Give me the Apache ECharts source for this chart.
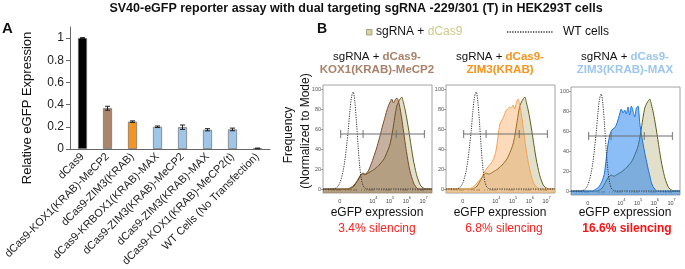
<!DOCTYPE html>
<html>
<head>
<meta charset="utf-8">
<script src="https://cdn.jsdelivr.net/npm/echarts@6/dist/echarts.min.js"></script>
<style>
  html, body { margin: 0; padding: 0; background: #fff; }
  #chart { width: 685px; height: 269px; }
</style>
</head>
<body>
<div id="chart"></div>
<script>
// panel A: relative eGFP expression
const categories = [
  'dCas9',
  'dCas9-KOX1(KRAB)-MeCP2',
  'dCas9-ZIM3(KRAB)',
  'dCas9-KRBOX1(KRAB)-MAX',
  'dCas9-ZIM3(KRAB)-MeCP2',
  'dCas9-ZIM3(KRAB)-MAX',
  'dCas9-KOX1(KRAB)-MeCP2(t)',
  'WT Cells (No Transfection)'
]
const expression = [1.0, 0.367, 0.246, 0.2, 0.196, 0.173, 0.176, 0.005]
const expressionErr = [0.004, 0.018, 0.007, 0.007, 0.02, 0.01, 0.012, 0.003]
const barColors = ['#000000', '#a8856b', '#f7931e', '#9fc5e8', '#9fc5e8', '#9fc5e8', '#9fc5e8', '#000000']

// panel B: histogram bins (display position of eGFP axis, 2 = 0, 4 = 10^4 ... 7 = 10^7)
const bins = [
  1.0, 1.1, 1.2, 1.3, 1.4, 1.5, 1.6, 1.7, 1.8, 1.9,
  2.0, 2.1, 2.2, 2.3, 2.4, 2.5, 2.6, 2.7, 2.8, 2.9,
  3.0, 3.1, 3.2, 3.3, 3.4, 3.5, 3.6, 3.7, 3.8, 3.9,
  4.0, 4.1, 4.2, 4.3, 4.4, 4.5, 4.6, 4.7, 4.8, 4.9,
  5.0, 5.1, 5.2, 5.3, 5.4, 5.5, 5.6, 5.7, 5.8, 5.9,
  6.0, 6.1, 6.2, 6.3, 6.4, 6.5, 6.6, 6.7, 6.8, 6.9,
  7.0, 7.1, 7.2, 7.3, 7.4, 7.5
]
const wtCells = [
  0, 0, 0, 0, 0, 0, 0, 0.5, 1, 3,
  6, 11, 18, 28, 42, 58, 77, 92, 97, 87,
  66, 41, 21, 9, 3, 1, 0, 0, 0, 0,
  0, 0, 0, 0, 0, 0, 0, 0, 0, 0,
  0, 0, 0, 0, 0, 0, 0, 0, 0, 0,
  0, 0, 0, 0, 0, 0, 0, 0, 0, 0,
  0, 0, 0, 0, 0, 0
]
const dCas9Only = [
  0, 0, 0, 0, 0, 0, 0, 0, 0, 0,
  0, 0, 0, 0, 0, 0, 0, 1, 2, 4,
  7, 10, 13, 15, 16, 15, 15, 16, 17, 18,
  19, 20, 22, 23, 25, 27, 29, 32, 36, 40,
  45, 53, 63, 74, 83, 87, 90, 92, 86, 79,
  70, 60, 49, 38, 28, 20, 13, 8, 4, 2,
  1, 0, 0, 0, 0, 0
]
const kox1Mecp2 = [
  0, 0, 0, 0, 0, 0, 0, 0, 0, 0,
  0, 0, 0, 0, 0, 0, 1, 2, 3, 5,
  7, 9, 12, 15, 15, 14, 16, 18, 22, 26,
  31, 36, 41, 47, 53, 60, 66, 72, 78, 83,
  87, 90, 86, 89, 91, 88, 80, 70, 58, 46,
  35, 25, 17, 11, 6, 3, 1, 0, 0, 0,
  0, 0, 0, 0, 0, 0
]
const zim3 = [
  0, 0, 0, 0, 0, 0, 0, 0, 0, 0,
  0, 0, 0, 0, 0, 1, 2, 3, 5, 7,
  9, 11, 14, 17, 20, 22, 24, 26, 29, 33,
  40, 52, 64, 68, 71, 75, 79, 80, 82, 81,
  84, 80, 87, 90, 84, 74, 62, 49, 37, 27,
  19, 12, 7, 4, 2, 1, 0, 0, 0, 0,
  0, 0, 0, 0, 0, 0
]
const zim3Max = [
  0, 0, 0, 0, 0, 0, 0, 0, 0, 0,
  0, 0, 0, 0, 1, 2, 3, 5, 8, 12,
  18, 32, 46, 55, 60, 62, 63, 66, 71, 77,
  82, 78, 81, 77, 84, 76, 85, 80, 74, 83,
  85, 68, 56, 47, 38, 30, 22, 15, 8, 4,
  2, 0, 0, 0, 0, 0, 0, 0, 0, 0,
  0, 0, 0, 0, 0, 0
]
const gateMarks = [2.05, 3.39, 5.37, 7.05]
const gateLevel = 55
const freqTicks = [0, 20, 40, 60, 80, 100]
const gfpTicks = [2, 4, 5, 6, 7]

const font = 'Liberation Sans, Arial, sans-serif'

// minor log ticks along the eGFP axis
const gfpMinor = []
for (let n = 1; n <= 6; n++) {
  for (let k = 1; k <= 9; k++) {
    const v = n + Math.log10(k)
    if (v >= 1 && v <= 7.5) gfpMinor.push(v)
  }
}
gfpMinor.push(7)

const pairs = (arr) => bins.map((d, i) => [d, arr[i]])

const panels = [
  { left: 323, top: 85, data: kox1Mecp2, fill: 'rgba(120,70,30,0.6)', line: '#7a4a2a' },
  { left: 446, top: 85, data: zim3, fill: 'rgba(250,150,60,0.5)', line: '#f5a050' },
  { left: 571, top: 87, data: zim3Max, fill: 'rgba(25,125,240,0.72)', line: '#1a73d9' }
]

const grids = [{ left: 70, top: 27, width: 200, height: 124.7 }]
const xAxes = [{
  type: 'category',
  gridIndex: 0,
  data: categories,
  axisLine: { lineStyle: { color: '#666' } },
  axisTick: { show: false },
  axisLabel: { rotate: 45, interval: 0, fontSize: 11, color: '#222', fontFamily: font, margin: 6 }
}]
const yAxes = [{
  type: 'value',
  gridIndex: 0,
  min: 0,
  max: 1.1,
  splitLine: { show: false },
  axisLine: { show: true, lineStyle: { color: '#666' } },
  axisTick: { show: true, length: 4, customValues: [0, 0.2, 0.4, 0.6, 0.8, 1] },
  axisLabel: { fontSize: 12, color: '#222', fontFamily: font, margin: 6, customValues: [0, 0.2, 0.4, 0.6, 0.8, 1] }
}]
const series = [
  {
    type: 'bar',
    xAxisIndex: 0,
    yAxisIndex: 0,
    barWidth: 9,
    data: expression.map((v, i) => ({ value: v, itemStyle: { color: barColors[i] } })),
    itemStyle: { borderColor: '#6f6f6f', borderWidth: 0.7 }
  },
  {
    type: 'custom',
    xAxisIndex: 0,
    yAxisIndex: 0,
    z: 10,
    data: expression.map((v, i) => [i, v - expressionErr[i], v + expressionErr[i]]),
    renderItem(params, api) {
      const lo = api.coord([api.value(0), api.value(1)])
      const hi = api.coord([api.value(0), api.value(2)])
      const w = 2.5
      const st = { stroke: '#222', lineWidth: 1 }
      return {
        type: 'group',
        children: [
          { type: 'line', shape: { x1: lo[0], y1: lo[1], x2: hi[0], y2: hi[1] }, style: st },
          { type: 'line', shape: { x1: hi[0] - w, y1: hi[1], x2: hi[0] + w, y2: hi[1] }, style: st },
          { type: 'line', shape: { x1: lo[0] - w, y1: lo[1], x2: lo[0] + w, y2: lo[1] }, style: st }
        ]
      }
    }
  }
]

panels.forEach((p, idx) => {
  const g = idx + 1
  grids.push({ left: p.left, top: p.top, width: 109, height: 108, show: true, borderColor: '#8a8a8a', borderWidth: 0.8 })
  xAxes.push({
    type: 'value',
    gridIndex: g,
    min: 1,
    max: 7.5,
    splitLine: { show: false },
    axisLine: { show: false },
    axisTick: { show: true, length: 2, lineStyle: { color: '#666', width: 0.6 }, customValues: gfpMinor },
    axisLabel: {
      customValues: gfpTicks,
      margin: 3,
      color: '#444',
      fontFamily: font,
      fontSize: 5.5,
      formatter: (v) => (Math.abs(v - 2) < 1e-6 ? '{b|0}' : '{b|10}{s|' + Math.round(v) + '}'),
      rich: {
        b: { fontSize: 5.5, color: '#444', verticalAlign: 'bottom', lineHeight: 8 },
        s: { fontSize: 4, color: '#444', verticalAlign: 'top', lineHeight: 8 }
      }
    }
  })
  yAxes.push({
    type: 'value',
    gridIndex: g,
    min: -4,
    max: 104,
    splitLine: { show: false },
    axisLine: { show: false },
    axisTick: { show: true, length: 2, lineStyle: { color: '#666', width: 0.6 }, customValues: freqTicks },
    axisLabel: { customValues: freqTicks, fontSize: 5.5, color: '#555', fontFamily: font, margin: 2 }
  })
  series.push(
    {
      type: 'line', xAxisIndex: g, yAxisIndex: g, data: pairs(dCas9Only), showSymbol: false, smooth: 0.2, z: 2,
      lineStyle: { color: '#5e5c1a', width: 1 }, areaStyle: { color: 'rgba(196,192,146,0.7)', origin: 'start' }
    },
    {
      type: 'line', xAxisIndex: g, yAxisIndex: g, data: pairs(p.data), showSymbol: false, smooth: 0.2, z: 3,
      lineStyle: { color: p.line, width: 1 }, areaStyle: { color: p.fill, origin: 'start' }
    },
    {
      type: 'line', xAxisIndex: g, yAxisIndex: g, data: pairs(wtCells), showSymbol: false, smooth: 0.3, z: 4,
      lineStyle: { color: '#333', width: 1, type: [1.2, 1.2] }
    },
    {
      type: 'line', xAxisIndex: g, yAxisIndex: g, showSymbol: false, z: 5,
      data: [[gateMarks[0], gateLevel], [gateMarks[gateMarks.length - 1], gateLevel]],
      lineStyle: { color: '#6e6e6e', width: 1.2 }
    },
    {
      type: 'scatter', xAxisIndex: g, yAxisIndex: g, z: 5, symbol: 'rect', symbolSize: [1.2, 8],
      itemStyle: { color: '#6e6e6e' },
      data: gateMarks.map((d) => [d, gateLevel])
    }
  )
})

const titleLine = (x, name, color) => ({
  type: 'text', x: x, y: 63,
  style: {
    text: '{k|sgRNA + }{c|dCas9-}\n{c|' + name + '}',
    textAlign: 'center', textVerticalAlign: 'middle',
    rich: {
      k: { fill: '#111', fontSize: 11.5, fontFamily: font, lineHeight: 13 },
      c: { fill: color, fontSize: 11.5, fontWeight: 'bold', fontFamily: font, lineHeight: 13 }
    }
  }
})
const plain = (x, y, text, opts) => ({
  type: 'text', x: x, y: y,
  style: Object.assign({ text: text, fill: '#111', font: '12px ' + font, textAlign: 'center', textVerticalAlign: 'middle' }, opts || {})
})

const graphic = [
  plain(356, 9, 'SV40-eGFP reporter assay with dual targeting sgRNA -229/301 (T) in HEK293T cells', { font: 'bold 12.5px ' + font }),
  plain(2, 29, 'A', { font: 'bold 15px ' + font, textAlign: 'left' }),
  plain(317, 29, 'B', { font: 'bold 14px ' + font, textAlign: 'left' }),
  Object.assign(plain(27, 108, 'Relative eGFP Expression', { font: '13px ' + font }), { rotation: Math.PI / 2 }),
  Object.assign(plain(289, 135, 'Frequency', { font: '12px ' + font }), { rotation: Math.PI / 2 }),
  Object.assign(plain(306, 131, '(Normalized to Mode)', { font: '12px ' + font }), { rotation: Math.PI / 2 }),
  { type: 'rect', shape: { x: 366.5, y: 29.5, width: 5.5, height: 5.5 }, style: { fill: '#d8d49a', stroke: '#8a8a6a', lineWidth: 0.7 } },
  {
    type: 'text', x: 376, y: 32,
    style: {
      text: '{k|sgRNA + }{c|dCas9}', textVerticalAlign: 'middle',
      rich: {
        k: { fill: '#111', fontSize: 12, fontFamily: font },
        c: { fill: '#cfc98a', fontSize: 12, fontFamily: font }
      }
    }
  },
  { type: 'line', shape: { x1: 507, y1: 32, x2: 553, y2: 32 }, style: { stroke: '#333', lineWidth: 1.3, lineDash: [1.3, 1.3] } },
  plain(563, 32, 'WT cells', { textAlign: 'left' }),
  titleLine(377, 'KOX1(KRAB)-MeCP2', '#a8826a'),
  titleLine(500, 'ZIM3(KRAB)', '#f7941d'),
  titleLine(625, 'ZIM3(KRAB)-MAX', '#9cc6ee'),
  plain(377, 213, 'eGFP expression'),
  plain(500, 213, 'eGFP expression'),
  plain(625, 213, 'eGFP expression'),
  plain(377, 229, '3.4% silencing', { fill: '#ff2020' }),
  plain(504, 229, '6.8% silencing', { fill: '#ff2020' }),
  plain(627, 229, '16.6% silencing', { fill: '#ff1010', font: 'bold 12px ' + font })
]

const chart = echarts.init(document.getElementById('chart'))
chart.setOption({
  animation: false,
  textStyle: { fontFamily: font },
  grid: grids,
  xAxis: xAxes,
  yAxis: yAxes,
  series: series,
  graphic: graphic
})
</script>
</body>
</html>
